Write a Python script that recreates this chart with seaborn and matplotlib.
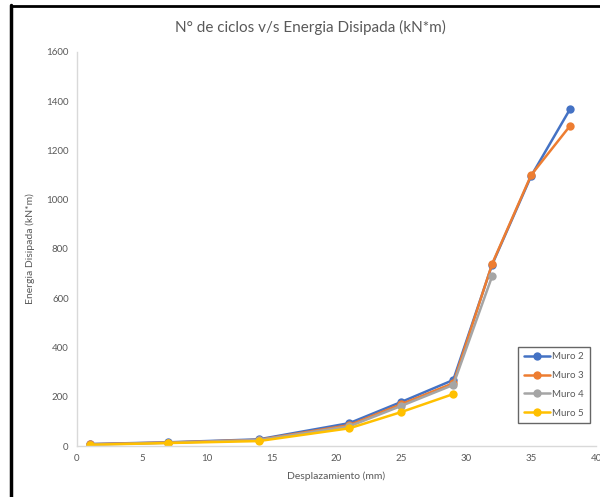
import pandas as pd
import seaborn as sns
import matplotlib.pyplot as plt
from matplotlib.lines import Line2D

# --- data ---
desplazamiento = [1, 7, 14, 21, 25, 29, 32, 35, 38]
muro_2 = [8, 15, 27, 93, 179, 268, 737, 1096, 1368]
muro_3 = [7, 14, 25, 85, 170, 255, 740, 1100, 1300]
desplazamiento_4 = [1, 7, 14, 21, 25, 29, 32]
muro_4 = [6, 13, 24, 80, 163, 248, 690]
desplazamiento_5 = [1, 7, 14, 21, 25, 29]
muro_5 = [5, 12, 20, 72, 138, 211]

series_names = ['Muro 2', 'Muro 3', 'Muro 4', 'Muro 5']
colors = ['#4472C4', '#ED7D31', '#A5A5A5', '#FFC000']

frames = [
    pd.DataFrame({'x': desplazamiento, 'y': muro_2, 'muro': 'Muro 2'}),
    pd.DataFrame({'x': desplazamiento, 'y': muro_3, 'muro': 'Muro 3'}),
    pd.DataFrame({'x': desplazamiento_4, 'y': muro_4, 'muro': 'Muro 4'}),
    pd.DataFrame({'x': desplazamiento_5, 'y': muro_5, 'muro': 'Muro 5'}),
]
df = pd.concat(frames, ignore_index=True)

sns.set_style('white')
plt.rcParams['font.family'] = ['Lato', 'DejaVu Sans']

fig = plt.figure(figsize=(6.0, 4.97), dpi=100)
ax = fig.add_axes([0.1283, 0.1026, 0.865, 0.7928])

sns.lineplot(data=df, x='x', y='y', hue='muro', hue_order=series_names,
             palette=colors, marker='o', markersize=6, markeredgewidth=0,
             linewidth=1.8, sort=False, ax=ax)

ax.set_xlim(0, 40)
ax.set_ylim(0, 1600)
ax.set_xticks(range(0, 41, 5))
ax.set_yticks(range(0, 1601, 200))
ax.tick_params(axis='both', labelsize=7, colors='#595959', length=0, pad=6)

for side in ['top', 'right']:
    ax.spines[side].set_visible(False)
for side in ['left', 'bottom']:
    ax.spines[side].set_color('#D9D9D9')
    ax.spines[side].set_linewidth(1.0)

ax.set_xlabel('Desplazamiento (mm)', fontsize=7.5, color='#595959', labelpad=6)
ax.set_ylabel('Energia Disipada (kN*m)', fontsize=7.5, color='#595959', labelpad=8)

fig.text(0.517, 0.944, 'N° de ciclos v/s Energia Disipada (kN*m)',
         ha='center', va='center', fontsize=11, color='#595959')

leg = ax.legend(loc='lower right', bbox_to_anchor=(0.998, 0.045), fontsize=7,
                frameon=True, fancybox=False, borderpad=0.6, labelspacing=1.0,
                handlelength=2.6, handletextpad=0.3)
leg.get_frame().set_edgecolor('#404040')
leg.get_frame().set_linewidth(1.0)
for t in leg.get_texts():
    t.set_color('#595959')

# black frame visible on the left and top of the screenshot
fig.add_artist(Line2D([11 / 600, 11 / 600], [0, 1 - 5 / 497], transform=fig.transFigure,
                      color='black', linewidth=2.5))
fig.add_artist(Line2D([11 / 600, 1], [1 - 6 / 497, 1 - 6 / 497], transform=fig.transFigure,
                      color='black', linewidth=2.0))

fig.savefig('out.png', dpi=100)
